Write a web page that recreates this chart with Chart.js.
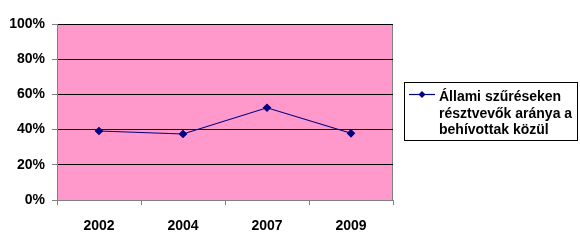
<!DOCTYPE html>
<html>
<head>
<meta charset="utf-8">
<script src="https://cdn.jsdelivr.net/npm/chart.js@4/dist/chart.umd.min.js"></script>
<style>
  html, body { margin: 0; padding: 0; background: #fff; }
  #wrap { width: 580px; height: 244px; position: relative; }
</style>
</head>
<body>
<div id="wrap"><canvas id="chart" width="580" height="244"></canvas></div>
<script>
const years = ["2002", "2004", "2007", "2009"];
const shares = [39.2, 37.5, 52.4, 37.9];
const legendLines = ["Állami szűréseken", "résztvevők aránya a", "behívottak közül"];

const FONT = "'Liberation Sans', Arial, sans-serif";
const NAVY = "#000080";

// pink plot area with grey frame
const plotBg = {
  id: "plotBg",
  beforeDraw(chart) {
    const { ctx, chartArea: a } = chart;
    ctx.save();
    ctx.fillStyle = "#ff99cc";
    ctx.fillRect(a.left, a.top, a.right - a.left, a.bottom - a.top);
    ctx.strokeStyle = "#808080";
    ctx.lineWidth = 1;
    ctx.strokeRect(a.left + 0.5, a.top + 0.5, a.right - a.left - 1, a.bottom - a.top);
    ctx.restore();
  }
};

// boxed legend with wrapped text, like the spreadsheet one
const boxLegend = {
  id: "boxLegend",
  afterDraw(chart) {
    const ctx = chart.ctx;
    const x = 404.5, y = 82.5, w = 173, h = 58;
    ctx.save();
    ctx.fillStyle = "#fff";
    ctx.fillRect(x, y, w, h);
    ctx.strokeStyle = "#000";
    ctx.lineWidth = 1;
    ctx.strokeRect(x, y, w, h);

    ctx.strokeStyle = NAVY;
    ctx.lineWidth = 1.2;
    ctx.beginPath();
    ctx.moveTo(409, 94.5);
    ctx.lineTo(435, 94.5);
    ctx.stroke();
    ctx.fillStyle = NAVY;
    ctx.beginPath();
    ctx.moveTo(422, 91);
    ctx.lineTo(425.5, 94.5);
    ctx.lineTo(422, 98);
    ctx.lineTo(418.5, 94.5);
    ctx.closePath();
    ctx.fill();

    ctx.fillStyle = "#000";
    ctx.font = "bold 14px " + FONT;
    ctx.textBaseline = "alphabetic";
    legendLines.forEach((t, i) => ctx.fillText(t, 439, 101 + i * 16.5));
    ctx.restore();
  }
};

new Chart(document.getElementById("chart"), {
  type: "line",
  data: {
    labels: years,
    datasets: [{
      label: legendLines.join(" "),
      data: shares,
      borderColor: NAVY,
      backgroundColor: NAVY,
      borderWidth: 1.2,
      pointStyle: "rectRot",
      pointRadius: 3.5,
      tension: 0
    }]
  },
  options: {
    responsive: false,
    animation: false,
    layout: { padding: { top: 24, right: 187, bottom: 0, left: 0 } },
    plugins: { legend: { display: false }, tooltip: { enabled: false } },
    scales: {
      x: {
        offset: true,
        afterFit: (s) => { s.height = 44; },
        grid: { offset: true, drawOnChartArea: false, tickLength: 5, color: "#808080" },
        border: { color: "#808080" },
        ticks: { color: "#000", padding: 13, font: { family: FONT, size: 14, weight: "bold" } }
      },
      y: {
        min: 0,
        max: 100,
        afterFit: (s) => { s.width = 57; },
        grid: { color: "#000", tickColor: "#808080", tickLength: 5 },
        border: { color: "#808080" },
        ticks: {
          stepSize: 20,
          padding: 7,
          color: "#000",
          font: { family: FONT, size: 14, weight: "bold" },
          callback: (v) => v + "%"
        }
      }
    }
  },
  plugins: [plotBg, boxLegend]
});
</script>
</body>
</html>
